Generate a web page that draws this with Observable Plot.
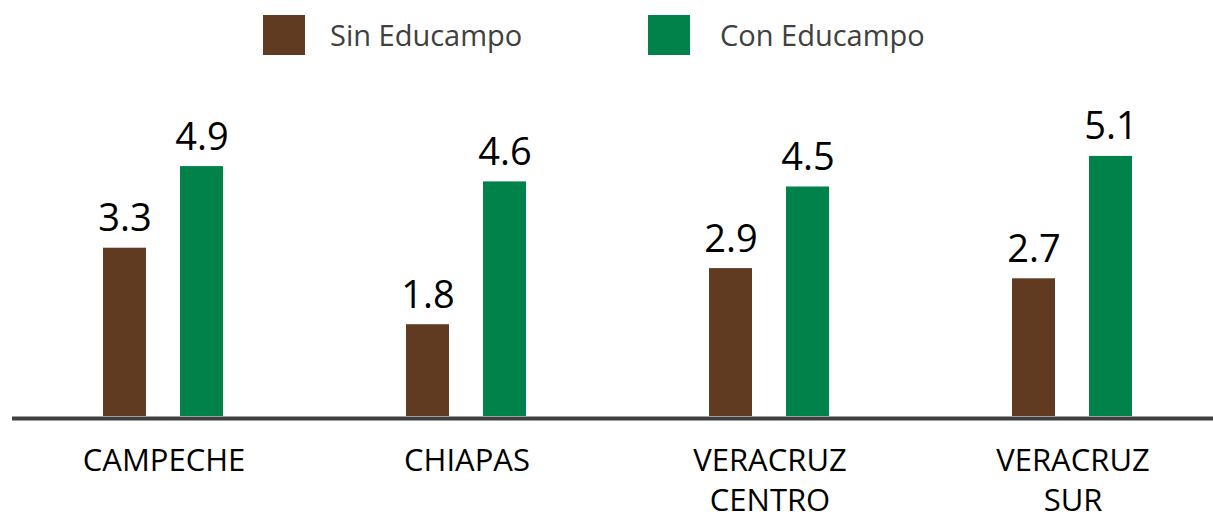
<!DOCTYPE html>
<html>
<head>
<meta charset="utf-8">
<script src="https://cdn.jsdelivr.net/npm/d3@7"></script>
<script src="https://cdn.jsdelivr.net/npm/@observablehq/plot@0.6"></script>
<style>
  body { margin: 0; background: #fff; font-family: "Open Sans", sans-serif; overflow: hidden; }
  #legend { position: relative; height: 70px; width: 1213px; }
  .item { position: absolute; top: 15px; display: flex; align-items: center; }
  .sw { width: 42px; height: 40px; }
  .lab { font-size: 29px; color: #404040; line-height: 40px; }
</style>
</head>
<body>
<div id="legend"></div>
<div id="chart"></div>
<script>
const states = ["CAMPECHE", "CHIAPAS", "VERACRUZ\nCENTRO", "VERACRUZ\nSUR"];
const series = ["Sin Educampo", "Con Educampo"];
const sinValues = [3.3, 1.8, 2.9, 2.7];
const conValues = [4.9, 4.6, 4.5, 5.1];
const colors = ["#603b22", "#00824a"];

const data = states.flatMap((s, i) => [
  {state: s, serie: series[0], value: sinValues[i]},
  {state: s, serie: series[1], value: conValues[i]}
]);

// legend
const legend = document.getElementById("legend");
const legendLeft = [263, 648];
const textGap = [25, 30];
series.forEach((s, i) => {
  const it = document.createElement("div");
  it.className = "item";
  it.style.left = legendLeft[i] + "px";
  const sw = document.createElement("div");
  sw.className = "sw";
  sw.style.background = colors[i];
  const lab = document.createElement("span");
  lab.className = "lab";
  lab.style.marginLeft = textGap[i] + "px";
  lab.textContent = s;
  it.appendChild(sw);
  it.appendChild(lab);
  legend.appendChild(it);
});

const chart = Plot.plot({
  width: 1213,
  height: 444,
  marginLeft: 11,
  marginRight: -11,
  marginTop: 40,
  marginBottom: 98,
  style: {fontFamily: "Open Sans", background: "#fff", overflow: "hidden"},
  fx: {domain: states, padding: 0, label: null},
  x: {domain: series, paddingInner: 0.44, paddingOuter: 1.163, axis: null},
  y: {domain: [0, 6], axis: null},
  color: {domain: series, range: colors},
  marks: [
    Plot.barY(data, {fx: "state", x: "serie", y: "value", fill: "serie"}),
    Plot.text(data, {fx: "state", x: "serie", y: "value", text: d => d.value.toFixed(1),
      lineAnchor: "bottom", dy: -17, fontSize: 38, fill: "#000"}),
    Plot.ruleY([0], {stroke: "#404040", strokeWidth: 4, dy: 2}),
    Plot.axisFx({anchor: "bottom", tickSize: 0, tickPadding: 26, fontSize: 31,
      lineHeight: 1.3, fill: "#000", label: null})
  ]
});
document.getElementById("chart").appendChild(chart);
</script>
</body>
</html>
